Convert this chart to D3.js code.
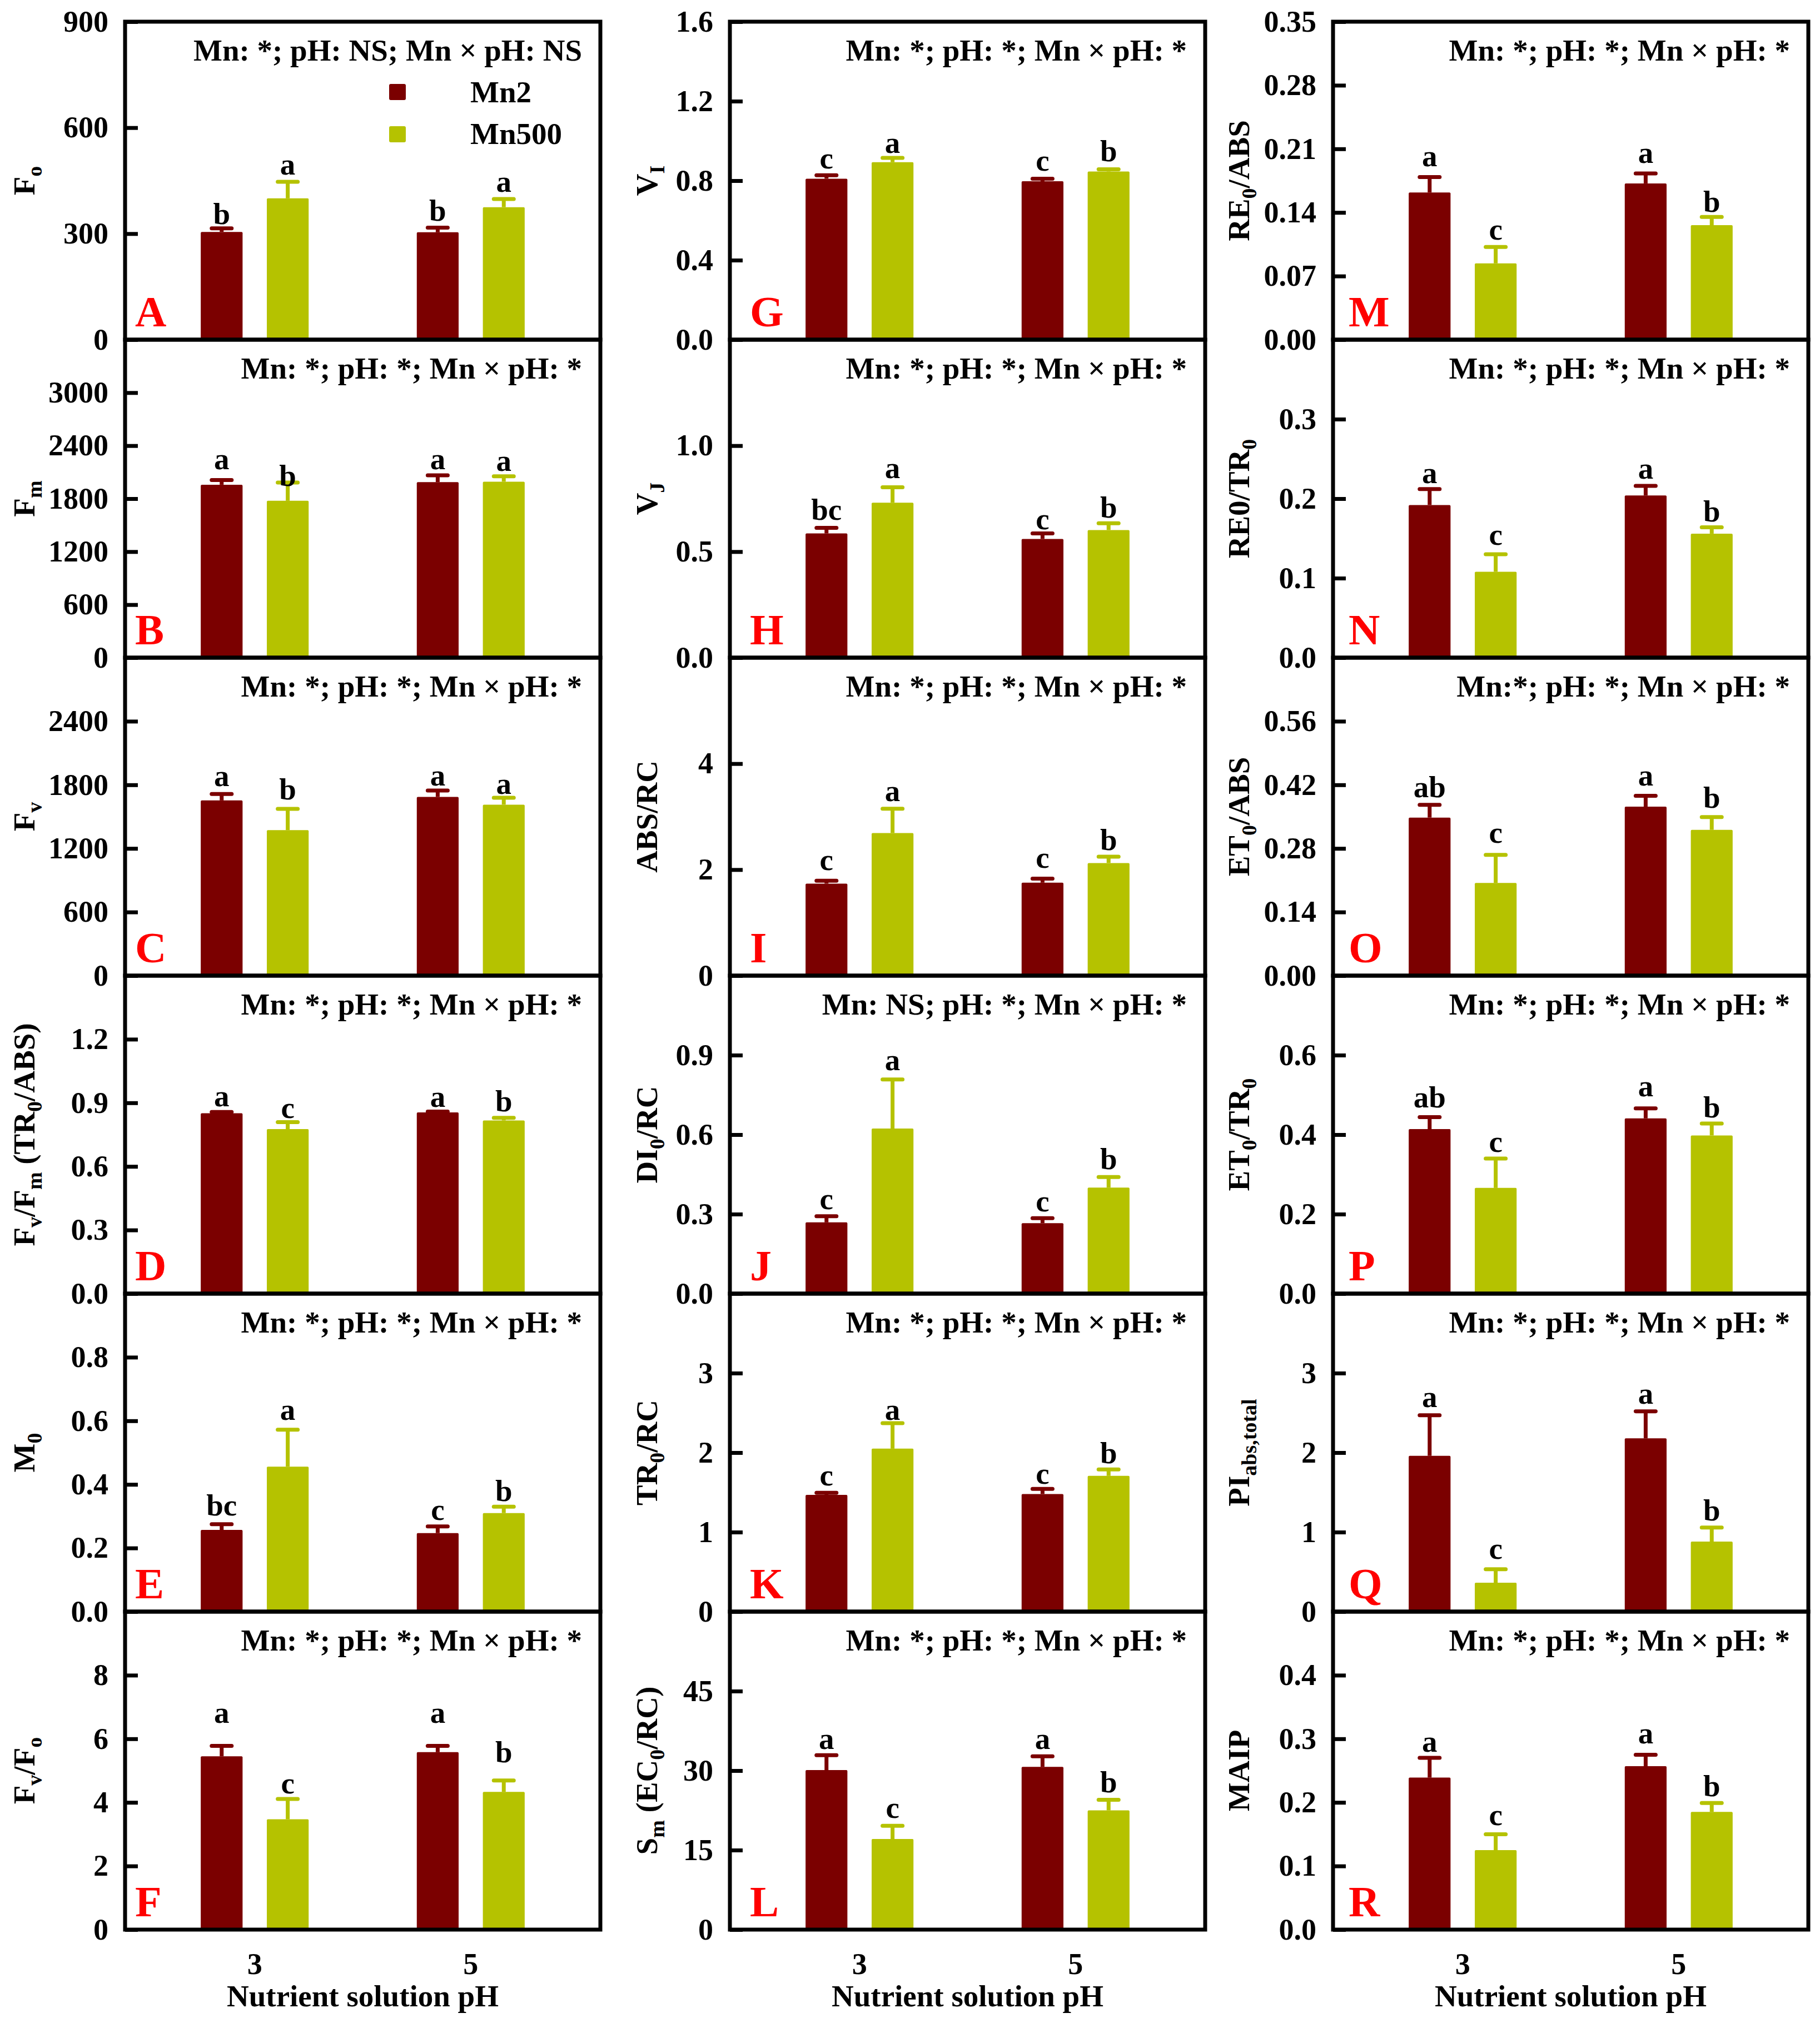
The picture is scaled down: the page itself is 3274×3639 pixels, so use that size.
<!DOCTYPE html>
<html><head><meta charset="utf-8">
<script src="https://cdn.jsdelivr.net/npm/d3@7"></script>
<style>body{margin:0;background:#fff}</style>
</head><body><svg id="chart"></svg>
<script>
// ---------------- DATA ----------------
const panelIds = ["A","B","C","D","E","F","G","H","I","J","K","L","M","N","O","P","Q","R"];
const phLevels = ["3","5"];
const series = ["Mn2","Mn500"];
const seriesColors = ["#7B0000","#B5C200"];

const yTitles = ["F_{o}","F_{m}","F_{v}","F_{v}/F_{m} (TR_{0}/ABS)","M_{0}","F_{v}/F_{o}",
  "V_{I}","V_{J}","ABS/RC","DI_{0}/RC","TR_{0}/RC","S_{m} (EC_{0}/RC)",
  "RE_{0}/ABS","RE0/TR_{0}","ET_{0}/ABS","ET_{0}/TR_{0}","PI_{abs,total}","MAIP"];

const statTexts = [
  "Mn: *; pH: NS; Mn \u00D7 pH: NS","Mn: *; pH: *; Mn \u00D7 pH: *","Mn: *; pH: *; Mn \u00D7 pH: *",
  "Mn: *; pH: *; Mn \u00D7 pH: *","Mn: *; pH: *; Mn \u00D7 pH: *","Mn: *; pH: *; Mn \u00D7 pH: *",
  "Mn: *; pH: *; Mn \u00D7 pH: *","Mn: *; pH: *; Mn \u00D7 pH: *","Mn: *; pH: *; Mn \u00D7 pH: *",
  "Mn: NS; pH: *; Mn \u00D7 pH: *","Mn: *; pH: *; Mn \u00D7 pH: *","Mn: *; pH: *; Mn \u00D7 pH: *",
  "Mn: *; pH: *; Mn \u00D7 pH: *","Mn: *; pH: *; Mn \u00D7 pH: *","Mn:*; pH: *; Mn \u00D7 pH: *",
  "Mn: *; pH: *; Mn \u00D7 pH: *","Mn: *; pH: *; Mn \u00D7 pH: *","Mn: *; pH: *; Mn \u00D7 pH: *"];

const yMax = [900,3600,3000,1.5,1.0,10, 1.6,1.5,6,1.2,4,60, 0.35,0.4,0.7,0.8,4,0.5];
const yTicks = [
  [0,300,600,900],[0,600,1200,1800,2400,3000],[0,600,1200,1800,2400],
  [0,0.3,0.6,0.9,1.2],[0,0.2,0.4,0.6,0.8],[0,2,4,6,8],
  [0,0.4,0.8,1.2,1.6],[0,0.5,1.0],[0,2,4],[0,0.3,0.6,0.9],[0,1,2,3],[0,15,30,45],
  [0,0.07,0.14,0.21,0.28,0.35],[0,0.1,0.2,0.3],[0,0.14,0.28,0.42,0.56],[0,0.2,0.4,0.6],[0,1,2,3],[0,0.1,0.2,0.3,0.4]];
const yFormats = ["d","d","d",".1f",".1f","d", ".1f",".1f","d",".1f","d","d", ".2f",".1f",".2f",".1f","d",".1f"];

// means [pH3, pH5]
const mn2Mean = [[305,304],[1958,1987],[1653,1686],[0.851,0.855],[0.257,0.247],[5.45,5.58],
  [0.810,0.797],[0.586,0.560],[1.737,1.754],[0.269,0.266],[1.468,1.479],[30.1,30.7],
  [0.162,0.172],[0.192,0.204],[0.348,0.372],[0.414,0.441],[1.96,2.18],[0.239,0.257]];
const mn2SE = [[10,13],[53,77],[61,60],[0.006,0.004],[0.018,0.021],[0.33,0.20],
  [0.017,0.013],[0.026,0.026],[0.053,0.076],[0.023,0.019],[0.027,0.064],[2.8,2.0],
  [0.017,0.011],[0.020,0.012],[0.028,0.024],[0.030,0.025],[0.51,0.34],[0.031,0.018]];
const mn500Mean = [[400,375],[1776,1992],[1373,1613],[0.776,0.817],[0.456,0.310],[3.47,4.33],
  [0.893,0.846],[0.731,0.602],[2.69,2.125],[0.623,0.400],[2.05,1.708],[17.1,22.5],
  [0.084,0.126],[0.108,0.156],[0.204,0.321],[0.266,0.398],[0.363,0.881],[0.125,0.185]];
const mn500SE = [[47,23],[206,62],[200,65],[0.033,0.012],[0.116,0.020],[0.64,0.36],
  [0.022,0.011],[0.073,0.032],[0.46,0.121],[0.185,0.040],[0.32,0.081],[2.5,2.0],
  [0.018,0.009],[0.022,0.008],[0.062,0.028],[0.074,0.030],[0.171,0.176],[0.025,0.014]];

const mn2Letters = [["b","b"],["a","a"],["a","a"],["a","a"],["bc","c"],["a","a"],
  ["c","c"],["bc","c"],["c","c"],["c","c"],["c","c"],["a","a"],
  ["a","a"],["a","a"],["ab","a"],["ab","a"],["a","a"],["a","a"]];
const mn500Letters = [["a","a"],["b","a"],["b","a"],["c","b"],["a","b"],["c","b"],
  ["a","b"],["a","b"],["a","b"],["a","b"],["a","b"],["c","b"],
  ["c","b"],["c","b"],["c","b"],["c","b"],["c","b"],["c","b"]];
// height (in data units) at which each significance letter sits
const mn2LetterAt = [[328,336],[2136,2136],[1786,1794],[0.884,0.882],[0.302,0.289],[6.5,6.5],
  [0.861,0.850],[0.650,0.606],[1.996,2.04],[0.319,0.311],[1.586,1.61],[34.1,34.1],
  [0.1907,0.1945],[0.2196,0.225],[0.393,0.419],[0.468,0.496],[2.573,2.616],[0.28,0.293]];
const mn500LetterAt = [[467,418],[1944,2112],[1665,1714],[0.829,0.859],[0.603,0.348],[4.28,5.27],
  [0.940,0.897],[0.848,0.661],[3.29,2.37],[0.843,0.469],[2.41,1.87],[21.1,25.9],
  [0.110,0.1406],[0.142,0.1714],[0.292,0.369],[0.356,0.444],[0.667,1.148],[0.1647,0.21]];

const xTitle = "Nutrient solution pH";

// ---------------- LAYOUT ----------------
const W = 3274, H = 3639;
const colX = [225, 1313, 2398], pw = 855, top0 = 39, ph = 572;
const titleOffset = [163, 131, 151];
const letterOffset = [18, 36, 28];
const FONT = "'Liberation Serif','Times New Roman',Times,serif";

const svg = d3.select("#chart").attr("width", W).attr("height", H)
  .style("font-family", FONT).style("font-weight", "bold");
svg.append("rect").attr("width", W).attr("height", H).attr("fill", "#fff");

function rich(textSel, str, subSize, shift) {
  const parts = str.split(/(_\{[^}]*\})/).filter(p => p.length);
  let pending = 0;
  parts.forEach(p => {
    if (p.startsWith("_{")) {
      textSel.append("tspan").attr("font-size", subSize).attr("dy", shift - pending).text(p.slice(2, -1));
      pending = shift;
    } else {
      const t = textSel.append("tspan").text(p);
      if (pending) { t.attr("dy", -pending); pending = 0; }
    }
  });
}

const meansBy = [mn2Mean, mn500Mean], seBy = [mn2SE, mn500SE],
      lettersBy = [mn2Letters, mn500Letters], letterAtBy = [mn2LetterAt, mn500LetterAt];

panelIds.forEach((id, i) => {
  const c = Math.floor(i / 6), r = i % 6;
  const x0 = colX[c], y0 = top0 + r * ph;
  const y = d3.scaleLinear().domain([0, yMax[i]]).range([y0 + ph, y0]);
  const x = d3.scalePoint().domain(phLevels).range([x0, x0 + pw]).padding(0.6);
  const xs = d3.scaleBand().domain(series).range([-0.1135 * pw, 0.1135 * pw]).paddingInner(0.367);
  const g = svg.append("g");

  // bars, error bars, letters
  series.forEach((s, si) => {
    phLevels.forEach((p, pj) => {
      const m = meansBy[si][i][pj], se = seBy[si][i][pj];
      const bx = x(p) + xs(s), bw = xs.bandwidth(), cx = bx + bw / 2;
      g.append("rect").attr("x", bx).attr("y", y(m)).attr("width", bw)
        .attr("height", y(0) - y(m)).attr("fill", seriesColors[si]).attr("rx", 2);
      g.append("line").attr("x1", cx).attr("x2", cx).attr("y1", y(m)).attr("y2", y(m + se))
        .attr("stroke", seriesColors[si]).attr("stroke-width", 7);
      g.append("line").attr("x1", cx - 18).attr("x2", cx + 18).attr("y1", y(m + se)).attr("y2", y(m + se))
        .attr("stroke", seriesColors[si]).attr("stroke-width", 7).attr("stroke-linecap", "round");
      g.append("text").attr("x", cx).attr("y", y(letterAtBy[si][i][pj]))
        .attr("text-anchor", "middle").attr("font-size", 55).attr("fill", "#000")
        .text(lettersBy[si][i][pj]);
    });
  });

  // axis
  const ax = g.append("g").attr("transform", `translate(${x0},0)`)
    .call(d3.axisLeft(y).tickValues(yTicks[i]).tickSize(-23).tickPadding(30)
      .tickFormat(d3.format(yFormats[i])));
  ax.select(".domain").remove();
  ax.attr("font-family", FONT).attr("font-size", 54).attr("font-weight", "bold");
  ax.selectAll("line").attr("stroke", "#000").attr("stroke-width", 7);
  ax.selectAll("text").attr("fill", "#000");

  // frame
  g.append("rect").attr("x", x0).attr("y", y0).attr("width", pw).attr("height", ph)
    .attr("fill", "none").attr("stroke", "#000").attr("stroke-width", 7);

  // stats text
  g.append("text").attr("x", x0 + pw - 33).attr("y", y0 + 70).attr("text-anchor", "end")
    .attr("font-size", 55).attr("fill", "#000").text(statTexts[i]);

  // panel letter
  g.append("text").attr("x", x0 + letterOffset[c]).attr("y", y0 + ph - 24)
    .attr("font-size", 78).attr("fill", "#FF0000").text(id);

  // y title
  const yt = g.append("text")
    .attr("transform", `translate(${x0 - titleOffset[c]},${y0 + ph / 2}) rotate(-90)`)
    .attr("text-anchor", "middle").attr("font-size", 55).attr("fill", "#000");
  rich(yt, yTitles[i], 38, 13);

  // bottom row x labels
  if (r === 5) {
    phLevels.forEach(p => {
      g.append("text").attr("x", x(p)).attr("y", y0 + ph + 80).attr("text-anchor", "middle")
        .attr("font-size", 54).attr("fill", "#000").text(p);
    });
    g.append("text").attr("x", x0 + pw / 2).attr("y", y0 + ph + 138).attr("text-anchor", "middle")
      .attr("font-size", 55).attr("fill", "#000").text(xTitle);
  }

  // legend (panel A only)
  if (i === 0) {
    series.forEach((s, si) => {
      g.append("rect").attr("x", x0 + 475).attr("y", y0 + 112 + si * 76).attr("width", 30).attr("height", 29)
        .attr("rx", 3).attr("fill", seriesColors[si]);
      g.append("text").attr("x", x0 + 621).attr("y", y0 + 145 + si * 75)
        .attr("font-size", 55).attr("fill", "#000").text(s);
    });
  }
});
</script></body></html>
